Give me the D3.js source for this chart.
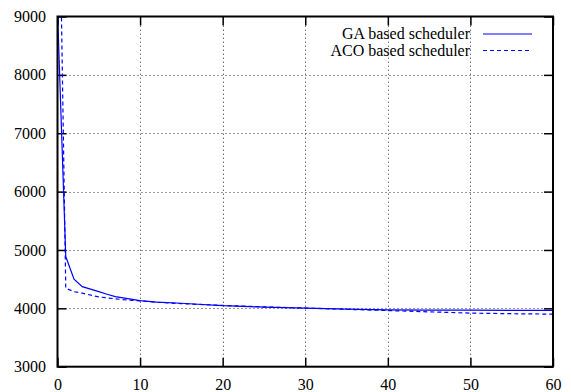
<!DOCTYPE html>
<html>
<head>
<meta charset="utf-8">
<script src="https://cdn.jsdelivr.net/npm/d3@7"></script>
<style>
  body { margin: 0; background: #fff; }
  svg { display: block; }
  svg text { font-family: "Liberation Serif", "Times New Roman", serif; }
</style>
</head>
<body>
<svg id="chart" width="571" height="392"></svg>
<script>
// generations on the x axis
const gaX = [0, 1, 2, 3, 5, 6, 7, 10, 12, 15, 17, 20, 25, 30, 35, 40, 45, 50, 55, 60];
const gaY = [9100, 4887, 4499, 4372, 4286, 4242, 4200, 4132, 4105, 4087, 4070, 4046, 4022, 4002, 3985, 3975, 3971, 3968, 3966, 3964];

const acoX = [0, 1, 2, 3, 5, 8, 10, 12, 15, 20, 25, 30, 35, 40, 45, 50, 55, 60];
const acoY = [13300, 4345, 4285, 4260, 4195, 4148, 4127, 4105, 4080, 4050, 4025, 4005, 3983, 3962, 3940, 3918, 3908, 3900];

const xTicks = [0, 10, 20, 30, 40, 50, 60];
const yTicks = [3000, 4000, 5000, 6000, 7000, 8000, 9000];

const legendLabels = ['GA based scheduler', 'ACO based scheduler'];

const margin = { left: 57.5, right: 18, top: 16.5, bottom: 25.3 };
const width = 571, height = 392;

const svg = d3.select('#chart');

const x = d3.scaleLinear().domain([0, 60]).range([margin.left, width - margin.right]);
const y = d3.scaleLinear().domain([3000, 9000]).range([height - margin.bottom, margin.top]);

svg.append('defs').append('clipPath').attr('id', 'clip')
  .append('rect')
  .attr('x', x(0)).attr('y', y(9000))
  .attr('width', x(60) - x(0)).attr('height', y(3000) - y(9000));

// dotted grid
const grid = svg.append('g')
  .attr('stroke', '#333').attr('stroke-width', 1).attr('stroke-dasharray', '1,3');
grid.selectAll('line.gx').data(xTicks.slice(1, -1)).join('line')
  .attr('class', 'gx')
  .attr('x1', d => Math.round(x(d)) + 0.5).attr('x2', d => Math.round(x(d)) + 0.5)
  .attr('y1', y(3000)).attr('y2', y(9000));
grid.selectAll('line.gy').data(yTicks.slice(1, -1)).join('line')
  .attr('class', 'gy')
  .attr('x1', x(0)).attr('x2', x(60))
  .attr('y1', d => Math.round(y(d)) + 0.5).attr('y2', d => Math.round(y(d)) + 0.5);

// axes, ticks pointing inward on all four sides
const fmt = d3.format('d');
const axLeft = svg.append('g').attr('transform', `translate(${x(0)},0)`)
  .call(d3.axisLeft(y).tickValues(yTicks).tickFormat(fmt).tickSize(-9).tickPadding(11.5));
const axBottom = svg.append('g').attr('transform', `translate(0,${y(3000)})`)
  .call(d3.axisBottom(x).tickValues(xTicks).tickFormat(fmt).tickSize(-9).tickPadding(12));
const axRight = svg.append('g').attr('transform', `translate(${x(60)},0)`)
  .call(d3.axisRight(y).tickValues(yTicks).tickSize(-9).tickFormat(''));
const axTop = svg.append('g').attr('transform', `translate(0,${y(9000)})`)
  .call(d3.axisTop(x).tickValues(xTicks).tickSize(-9).tickFormat(''));

[axLeft, axBottom, axRight, axTop].forEach(g => {
  g.attr('font-family', null).attr('font-size', 16);
  g.select('.domain').remove();
  g.selectAll('.tick line').attr('stroke', '#000').attr('stroke-width', 1.5);
  g.selectAll('text').attr('fill', '#000');
});

// series
const line = d3.line().x(d => x(d[0])).y(d => y(d[1]));
const plot = svg.append('g').attr('clip-path', 'url(#clip)');
plot.append('path')
  .datum(d3.zip(gaX, gaY))
  .attr('d', line)
  .attr('fill', 'none').attr('stroke', '#0000ff').attr('stroke-width', 1.2);
plot.append('path')
  .datum(d3.zip(acoX, acoY))
  .attr('d', line)
  .attr('fill', 'none').attr('stroke', '#0000ff').attr('stroke-width', 1.2)
  .attr('stroke-dasharray', '4,3');

// frame
svg.append('rect')
  .attr('x', x(0)).attr('y', y(9000))
  .attr('width', x(60) - x(0)).attr('height', y(3000) - y(9000))
  .attr('fill', 'none').attr('stroke', '#000').attr('stroke-width', 2);

// legend
const legend = svg.append('g');
legendLabels.forEach((label, i) => {
  const ly = 34 + i * 16.5;
  legend.append('text')
    .attr('x', 470).attr('y', ly).attr('dy', '0.33em')
    .attr('text-anchor', 'end').attr('font-size', 16)
    .text(label);
  legend.append('line')
    .attr('x1', 483).attr('x2', 532).attr('y1', ly).attr('y2', ly)
    .attr('stroke', '#0000ff').attr('stroke-width', 1.2)
    .attr('stroke-dasharray', i === 1 ? '4,3' : null);
});
</script>
</body>
</html>
